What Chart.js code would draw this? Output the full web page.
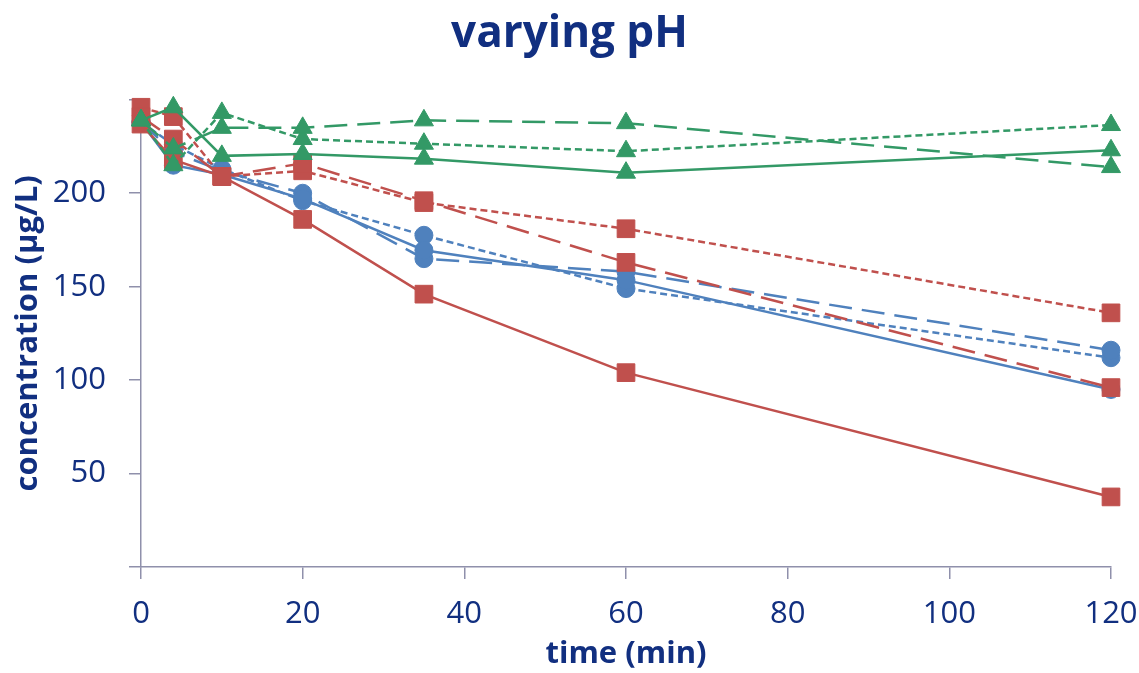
<!DOCTYPE html>
<html>
<head>
<meta charset="utf-8">
<script src="https://cdn.jsdelivr.net/npm/chart.js@4.4.1/dist/chart.umd.min.js"></script>
<style>
  html, body { margin: 0; padding: 0; background: #ffffff; }
  #wrap { width: 1139px; height: 673px; position: relative; }
</style>
</head>
<body>
<div id="wrap"><canvas id="c" width="1139" height="673"></canvas></div>
<script>
// ---- data ----
const chartTitle = 'varying pH';
const xTitle = 'time (min)';
const yTitle = 'concentration (µg/L)';
const times = [0, 4, 10, 20, 35, 60, 120];
const xTickValues = [0, 20, 40, 60, 80, 100, 120];
const yTickLabels = [50, 100, 150, 200];

const blueSolid     = [238, 215, 210, 197, 169.5, 153.5, 95];
const blueLongDash  = [238, 222, 212, 200, 165, 158, 116];
const blueShortDash = [238, 226, 213, 196, 177.5, 149, 112];

const redSolid      = [237, 218, 209, 186, 146, 104, 37.5];
const redLongDash   = [241, 229, 209, 216, 196, 163, 96];
const redShortDash  = [246, 241, 209, 212, 195, 181, 136];

const greenSolid     = [239, 246, 220, 221, 218.5, 211, 223];
const greenLongDash  = [239, 224, 235, 235, 239, 237.5, 214];
const greenShortDash = [239, 215, 243, 229, 226.5, 222.5, 236.5];

// ---- styles ----
const BLUE = '#4f81bd', RED = '#c0504d', GREEN = '#339966';
const NAVY = '#112f80', AXIS = '#8f90ab';
const FONT = "'Open Sans', 'Liberation Sans', sans-serif";
const LONG = [23, 10], SHORT = [7, 4], SOLID = [];

function pts(arr) { return times.map((t, i) => ({ x: t, y: arr[i] })); }
function ds(label, arr, color, dash, shape) {
  const r = shape === 'rect' ? 12.5 : (shape === 'triangle' ? 11 : 9);
  return {
    label, data: pts(arr),
    borderColor: color, backgroundColor: color,
    borderWidth: 2.5, borderDash: dash,
    pointStyle: shape, pointRadius: r, pointHoverRadius: r,
    pointBorderWidth: 1, pointBorderColor: color, pointBackgroundColor: color,
    tension: 0, fill: false, clip: false
  };
}

const datasets = [
  ds('green solid', greenSolid, GREEN, SOLID, 'triangle'),
  ds('green long dash', greenLongDash, GREEN, LONG, 'triangle'),
  ds('green short dash', greenShortDash, GREEN, SHORT, 'triangle'),
  ds('red solid', redSolid, RED, SOLID, 'rect'),
  ds('red long dash', redLongDash, RED, LONG, 'rect'),
  ds('red short dash', redShortDash, RED, SHORT, 'rect'),
  ds('blue solid', blueSolid, BLUE, SOLID, 'circle'),
  ds('blue long dash', blueLongDash, BLUE, LONG, 'circle'),
  ds('blue short dash', blueShortDash, BLUE, SHORT, 'circle')
];

new Chart(document.getElementById('c'), {
  type: 'line',
  data: { datasets },
  options: {
    responsive: false,
    animation: false,
    devicePixelRatio: 1,
    layout: { padding: { left: 0, right: 0, top: 0, bottom: 0 } },
    plugins: {
      legend: { display: false },
      tooltip: { enabled: false },
      title: {
        display: true, text: chartTitle, color: NAVY,
        font: { family: FONT, size: 44, weight: 'bold', lineHeight: 1.2 },
        padding: { top: 8, bottom: 39 }
      }
    },
    scales: {
      x: {
        type: 'linear', min: 0, max: 120,
        afterFit: (s) => { s.height = 106; s.paddingRight = 28; s.paddingLeft = 0; },
        afterBuildTicks: (s) => { s.ticks = xTickValues.map(v => ({ value: v })); },
        ticks: { color: NAVY, font: { family: FONT, size: 31 }, padding: 17, maxRotation: 0 },
        grid: { display: true, drawOnChartArea: false, drawTicks: true, tickLength: 12, color: AXIS, lineWidth: 1.5 },
        border: { display: true, color: AXIS, width: 1.5 },
        title: { display: true, text: xTitle, color: NAVY,
                 font: { family: FONT, size: 31, weight: 'bold', lineHeight: 1.2 },
                 padding: { top: 0, bottom: 0 } }
      },
      y: {
        type: 'linear', min: 0, max: 250,
        afterFit: (s) => { s.width = 141; },
        ticks: { stepSize: 50, color: NAVY, font: { family: FONT, size: 31 }, padding: 23,
                 callback: (v) => yTickLabels.includes(v) ? String(v) : '' },
        grid: { display: true, drawOnChartArea: false, drawTicks: true, tickLength: 12, color: AXIS, lineWidth: 1.5 },
        border: { display: true, color: AXIS, width: 1.5 },
        title: { display: true, text: yTitle, color: NAVY,
                 font: { family: FONT, size: 31, weight: 'bold', lineHeight: 1.2 },
                 padding: { top: 10, bottom: 0 } }
      }
    }
  }
});
</script>
</body>
</html>
